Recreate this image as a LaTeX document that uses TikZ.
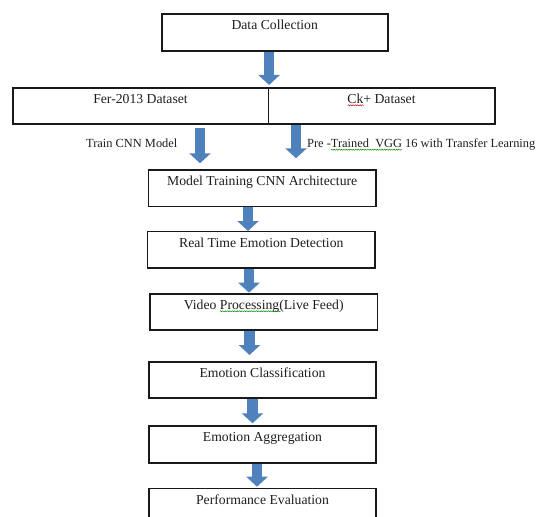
\documentclass[tikz,border=0pt]{standalone}
\usepackage{fontspec}
\setmainfont{Liberation Serif}
\usetikzlibrary{arrows.meta,calc,decorations.pathmorphing}

\definecolor{flowblue}{HTML}{4F81BD}
\definecolor{inkgray}{HTML}{1E1E1E}

\tikzset{
  stagebox/.style={draw=black!90, line width=1.6pt, inner sep=0pt,
    minimum height=36pt, text height=15.5pt, text depth=20.5pt,
    text=inkgray, font=\fontsize{13.7}{16}\selectfont},
  flow/.style={draw=flowblue, line width=10.5pt,
    -{Triangle[width=21pt,length=10pt]}},
  sidelabel/.style={inner sep=0pt, anchor=base west, text=inkgray,
    font=\fontsize{12.4}{14}\selectfont},
  spellmark/.style={line width=0.45pt, decorate,
    decoration={snake, amplitude=0.6pt, segment length=2.4pt}}
}

\begin{document}
\begin{tikzpicture}[x=1pt,y=-1pt]
\useasboundingbox (0,0) rectangle (537,516);
\clip (0,0) rectangle (537,516);

% stages
\node[stagebox, minimum width=226pt, minimum height=36.7pt, text depth=21.2pt, anchor=north] (dc) at (274.7,13.3) {Data Collection};
\node[stagebox, minimum width=255.6pt, anchor=north] (fer) at (140.5,87.3) {Fer-2013 Dataset};
\node[stagebox, minimum width=226.4pt, anchor=north] (ck)  at (381.5,87.3) {Ck+ Dataset};
\node[stagebox, minimum width=227.7pt, minimum height=36.4pt, text depth=20.9pt, anchor=north] (mt) at (262.2,169.3) {Model Training CNN Architecture};
\node[stagebox, minimum width=227.3pt, minimum height=36.6pt, text depth=21.1pt, anchor=north] (rt) at (261.3,230.7) {Real Time Emotion Detection};
\node[stagebox, minimum width=227.3pt, anchor=north] (vp)  at (263.7,293.3) {Video Processing(Live Feed)};
\node[stagebox, minimum width=227pt, anchor=north] (ec)    at (262.5,361)   {Emotion Classification};
\node[stagebox, minimum width=227pt, minimum height=36.7pt, text depth=21.2pt, anchor=north] (ea) at (262.5,425.3) {Emotion Aggregation};
\node[stagebox, minimum width=227pt, anchor=north] (pe)    at (262.5,487.7) {Performance Evaluation};

% branch labels
\node[sidelabel] (lcnn) at (86,147.3)  {Train CNN Model};
\node[sidelabel] (lvgg) at (307,147.3) {Pre -Trained\ \ VGG 16 with Transfer Learning};

% spell-check underlines
\draw[spellmark, red!80!black]   ($(ck.north)+(-34,18)$) -- +(16,0);
\draw[spellmark, green!55!black] ($(vp.north)+(-44,18)$) -- +(61,0);
\draw[spellmark, green!55!black] ($(lvgg.base west)+(24,2.4)$) -- +(71,0);

% block arrows
\draw[flow] (dc.south -| fer.east) -- ($(fer.north east)+(0,-2.3)$);
\draw[flow] ($(fer.south)+(59.5,3.4)$) -- ($(fer.south |- mt.north)+(59.5,-6)$);
\draw[flow] ($(ck.south)+(-85.5,0)$) -- ($(ck.south |- mt.north)+(-85.5,-11)$);
\draw[flow] ($(mt.south)+(-14.2,0)$) -- ($(mt.south |- rt.north)+(-14.2,0.3)$);
\draw[flow] ($(rt.south)+(-12.3,0)$) -- ($(rt.south |- vp.north)+(-12.3,-0.6)$);
\draw[flow] ($(vp.south)+(-14.2,0)$) -- ($(vp.south |- ec.north)+(-14.2,-6)$);
\draw[flow] ($(ec.south)+(-10,0)$) -- ($(ec.south |- ea.north)+(-10,-2)$);
\draw[flow] ($(ea.south)+(-5.5,0)$) -- ($(ea.south |- pe.north)+(-5.5,-1)$);
\end{tikzpicture}
\end{document}
